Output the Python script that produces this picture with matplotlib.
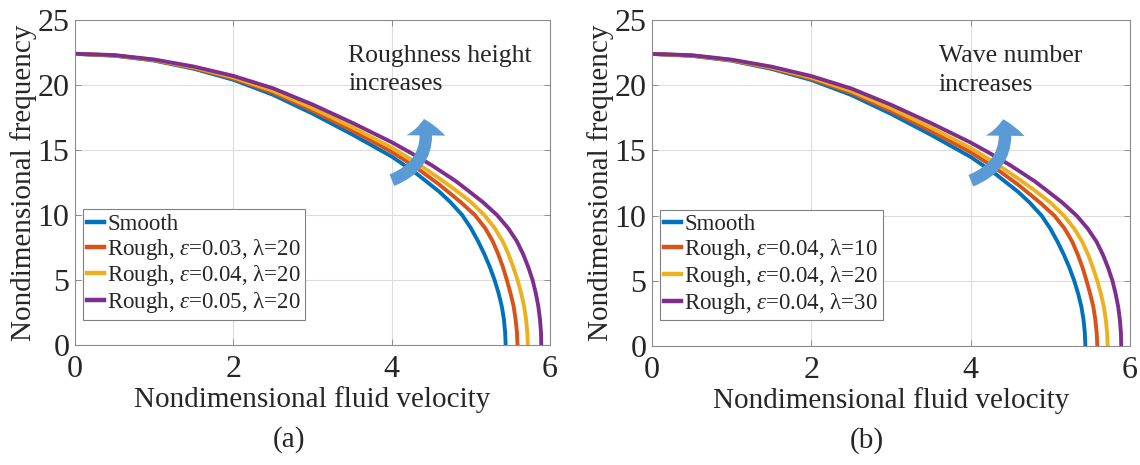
import matplotlib
matplotlib.use("Agg")
import matplotlib.pyplot as plt
from matplotlib.patches import FancyArrowPatch

plt.rcParams["font.family"] = ["Liberation Serif", "DejaVu Serif"]
plt.rcParams["mathtext.fontset"] = "custom"
plt.rcParams["mathtext.rm"] = "Liberation Serif"
plt.rcParams["mathtext.it"] = "Liberation Serif:italic"

# (a) roughness height varies, lambda = 20
smooth_a_x = [0, 0.5, 1.0, 1.5, 2.0, 2.5, 3.0, 3.5, 4.0, 4.3, 4.6, 4.74, 4.89, 5.0, 5.09, 5.17, 5.24,
              5.30, 5.35, 5.39, 5.417, 5.433, 5.44]
smooth_a_y = [22.4, 22.25, 21.88, 21.25, 20.4, 19.25, 17.8, 16.2, 14.5, 13.25, 11.8, 11, 10, 9, 8, 7, 6,
              5, 4, 3, 2, 1, 0]
eps003_a_x = [0, 0.5, 1.0, 1.5, 2.0, 2.5, 3.0, 3.5, 4.0, 4.3, 4.6, 4.87, 5.05, 5.18, 5.275, 5.345, 5.405,
              5.455, 5.50, 5.54, 5.565, 5.582, 5.59]
eps003_a_y = [22.4, 22.27, 21.91, 21.31, 20.5, 19.42, 18.03, 16.5, 14.86, 13.69, 12.35, 11, 10, 9, 8, 7, 6,
              5, 4, 3, 2, 1, 0]
eps004_a_x = [0, 0.5, 1.0, 1.5, 2.0, 2.5, 3.0, 3.5, 4.0, 4.3, 4.6, 4.79, 5.0, 5.17, 5.3, 5.4, 5.475, 5.535,
              5.59, 5.635, 5.672, 5.697, 5.713, 5.72]
eps004_a_y = [22.4, 22.28, 21.93, 21.36, 20.59, 19.56, 18.23, 16.76, 15.18, 14.07, 12.82, 12, 11, 10, 9, 8, 7, 6,
              5, 4, 3, 2, 1, 0]
eps005_a_x = [0, 0.5, 1.0, 1.5, 2.0, 2.5, 3.0, 3.5, 4.0, 4.25, 4.5, 4.8, 4.94, 5.15, 5.33, 5.47, 5.58, 5.66,
              5.725, 5.78, 5.82, 5.852, 5.873, 5.886, 5.89]
eps005_a_y = [22.4, 22.3, 21.96, 21.42, 20.7, 19.75, 18.5, 17.1, 15.6, 14.75, 13.85, 12.65, 12, 11, 10, 9, 8, 7,
              6, 5, 4, 3, 2, 1, 0]

# (b) wave number varies, epsilon = 0.04
smooth_b_x = [0, 0.5, 1.0, 1.5, 2.0, 2.5, 3.0, 3.5, 4.0, 4.3, 4.6, 4.74, 4.89, 5.0, 5.09, 5.17, 5.24,
              5.30, 5.35, 5.39, 5.417, 5.433, 5.44]
smooth_b_y = [22.4, 22.25, 21.88, 21.25, 20.4, 19.25, 17.8, 16.2, 14.5, 13.25, 11.8, 11, 10, 9, 8, 7, 6,
              5, 4, 3, 2, 1, 0]
lam10_b_x = [0, 0.5, 1.0, 1.5, 2.0, 2.5, 3.0, 3.5, 4.0, 4.3, 4.6, 4.87, 5.05, 5.18, 5.275, 5.345, 5.405,
             5.455, 5.50, 5.54, 5.565, 5.582, 5.59]
lam10_b_y = [22.4, 22.27, 21.91, 21.31, 20.5, 19.42, 18.03, 16.5, 14.86, 13.69, 12.35, 11, 10, 9, 8, 7, 6,
             5, 4, 3, 2, 1, 0]
lam20_b_x = [0, 0.5, 1.0, 1.5, 2.0, 2.5, 3.0, 3.5, 4.0, 4.3, 4.6, 4.79, 5.0, 5.17, 5.3, 5.4, 5.475, 5.535,
             5.59, 5.635, 5.672, 5.697, 5.713, 5.72]
lam20_b_y = [22.4, 22.28, 21.93, 21.36, 20.59, 19.56, 18.23, 16.76, 15.18, 14.07, 12.82, 12, 11, 10, 9, 8, 7, 6,
             5, 4, 3, 2, 1, 0]
lam30_b_x = [0, 0.5, 1.0, 1.5, 2.0, 2.5, 3.0, 3.5, 4.0, 4.25, 4.5, 4.8, 4.94, 5.15, 5.33, 5.47, 5.58, 5.66,
             5.725, 5.78, 5.82, 5.852, 5.873, 5.886, 5.89]
lam30_b_y = [22.4, 22.3, 21.96, 21.42, 20.7, 19.75, 18.5, 17.1, 15.6, 14.75, 13.85, 12.65, 12, 11, 10, 9, 8, 7,
             6, 5, 4, 3, 2, 1, 0]

labels_a = ["Smooth",
            r"Rough, $\varepsilon$=0.03, λ=20",
            r"Rough, $\varepsilon$=0.04, λ=20",
            r"Rough, $\varepsilon$=0.05, λ=20"]
labels_b = ["Smooth",
            r"Rough, $\varepsilon$=0.04, λ=10",
            r"Rough, $\varepsilon$=0.04, λ=20",
            r"Rough, $\varepsilon$=0.04, λ=30"]

colors = ["#0072BD", "#D95319", "#EDB120", "#7E2F8E"]
text_color = "#262626"


def draw_panel(ax, curves, labels, note, note_x, tag):
    for (x, y), label, c in zip(curves, labels, colors):
        ax.plot(x, y, color=c, lw=2.8, label=label, solid_joinstyle="round")
    ax.set_xlim(0, 6)
    ax.set_ylim(0, 25)
    ax.set_xticks([0, 2, 4, 6])
    ax.set_yticks([0, 5, 10, 15, 20, 25])
    ax.grid(True, color="#dcdcdc", lw=0.8)
    ax.set_axisbelow(True)
    ax.tick_params(direction="in", length=4, width=0.6, colors="#808080",
                   labelcolor=text_color, labelsize=23, top=True, right=True)
    ax.tick_params(axis="x", pad=7)
    ax.tick_params(axis="y", pad=4)
    for s in ax.spines.values():
        s.set_color("#8c8c8c")
        s.set_linewidth(0.8)
    ax.set_xlabel("Nondimensional fluid velocity", fontsize=21, color=text_color, labelpad=2)
    ax.set_ylabel("Nondimensional frequency", fontsize=21, color=text_color, labelpad=0)

    leg = ax.legend(loc="upper left", bbox_to_anchor=(0.016, 0.418), borderaxespad=0,
                    fontsize=16.5, handlelength=0.75, handletextpad=0.12,
                    labelspacing=0.08, borderpad=0.2, fancybox=False, framealpha=1)
    leg.get_frame().set_edgecolor("#808080")
    leg.get_frame().set_linewidth(0.8)
    for t in leg.get_texts():
        t.set_color(text_color)
    for h in leg.get_lines():
        h.set_linewidth(3.2)

    ax.text(note_x, 23.1, note, fontsize=18.5, color=text_color, va="top", ha="left",
            linespacing=1.4)

    arrow = FancyArrowPatch((3.97, 12.6), (4.4, 17.6),
                            connectionstyle="arc3,rad=0.45",
                            arrowstyle="simple,head_length=12,head_width=28,tail_width=9",
                            mutation_scale=1, color="#5b9bd5", lw=0, zorder=5)
    ax.add_patch(arrow)

    ax.text(0.45, -0.29, tag, transform=ax.transAxes, fontsize=21, color=text_color,
            ha="center", va="center")


fig = plt.figure(figsize=(11.4, 4.65), dpi=100)
ax_a = fig.add_axes([75 / 1140, 1 - 345 / 465, 475 / 1140, 325 / 465])
ax_b = fig.add_axes([652 / 1140, 1 - 346 / 465, 478 / 1140, 326 / 465])

draw_panel(ax_a,
           [(smooth_a_x, smooth_a_y), (eps003_a_x, eps003_a_y),
            (eps004_a_x, eps004_a_y), (eps005_a_x, eps005_a_y)],
           labels_a, "Roughness height\nincreases", 3.45, "(a)")
draw_panel(ax_b,
           [(smooth_b_x, smooth_b_y), (lam10_b_x, lam10_b_y),
            (lam20_b_x, lam20_b_y), (lam30_b_x, lam30_b_y)],
           labels_b, "Wave number\nincreases", 3.6, "(b)")

fig.savefig("out.png", dpi=100)
